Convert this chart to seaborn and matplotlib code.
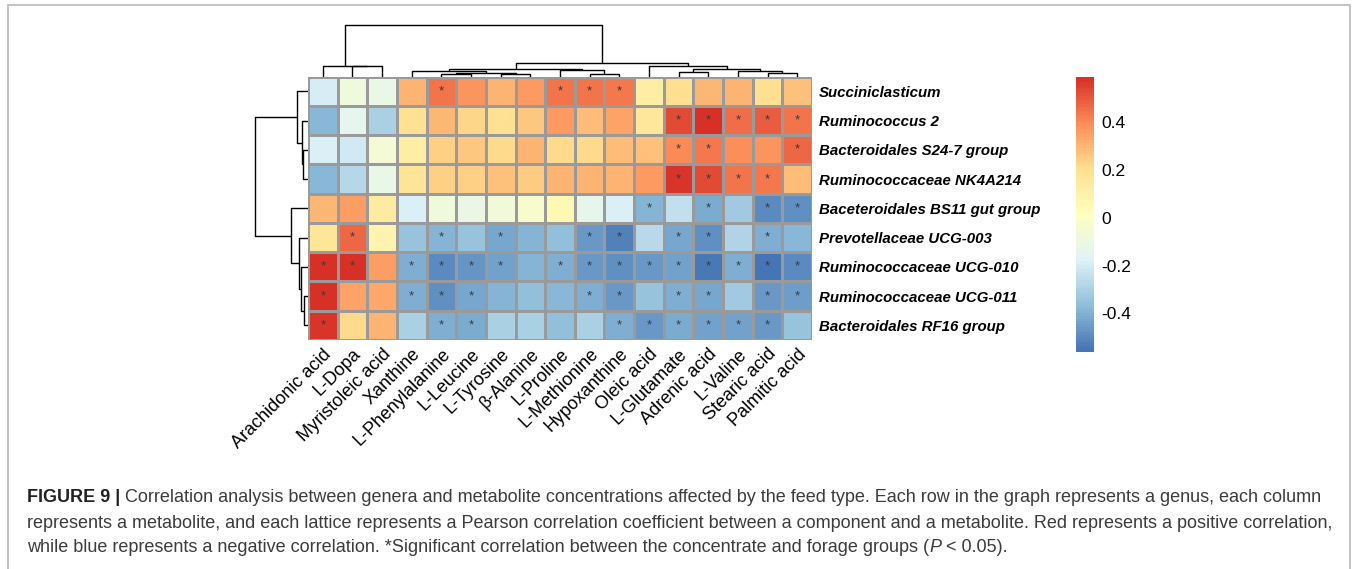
import numpy as np
import pandas as pd
import matplotlib
matplotlib.use("Agg")
import matplotlib.pyplot as plt
import seaborn as sns
from matplotlib.colors import LinearSegmentedColormap, ListedColormap
from matplotlib.patches import Rectangle

# ---------------- data ----------------
genera = ["Succiniclasticum", "Ruminococcus 2", "Bacteroidales S24-7 group",
          "Ruminococcaceae NK4A214", "Baceteroidales BS11 gut group",
          "Prevotellaceae UCG-003", "Ruminococcaceae UCG-010",
          "Ruminococcaceae UCG-011", "Bacteroidales RF16 group"]

metabolites = ["Arachidonic acid", "L-Dopa", "Myristoleic acid", "Xanthine",
               "L-Phenylalanine", "L-Leucine", "L-Tyrosine", "β-Alanine",
               "L-Proline", "L-Methionine", "Hypoxanthine", "Oleic acid",
               "L-Glutamate", "Adrenic acid", "L-Valine", "Stearic acid",
               "Palmitic acid"]

# Pearson r, one list per genus (columns follow `metabolites`)
r_succiniclasticum = [-0.20, -0.08, -0.12, 0.31, 0.45, 0.38, 0.31, 0.36, 0.45,
                      0.45, 0.43, 0.12, 0.21, 0.30, 0.31, 0.21, 0.27]
r_ruminococcus2 = [-0.38, -0.14, -0.30, 0.19, 0.30, 0.23, 0.19, 0.26, 0.36,
                   0.28, 0.34, 0.16, 0.53, 0.59, 0.46, 0.49, 0.45]
r_s24_7 = [-0.19, -0.21, -0.06, 0.12, 0.24, 0.26, 0.22, 0.31, 0.22,
           0.22, 0.29, 0.27, 0.40, 0.44, 0.39, 0.38, 0.47]
r_nk4a214 = [-0.38, -0.28, -0.12, 0.18, 0.24, 0.24, 0.27, 0.25, 0.31,
             0.31, 0.31, 0.37, 0.57, 0.53, 0.45, 0.44, 0.28]
r_bs11 = [0.30, 0.35, 0.13, -0.19, -0.08, -0.11, -0.07, -0.02, 0.06,
          -0.13, -0.19, -0.39, -0.24, -0.42, -0.32, -0.50, -0.48]
r_prevotellaceae003 = [0.17, 0.47, 0.08, -0.35, -0.39, -0.35, -0.43, -0.39, -0.36,
                       -0.46, -0.52, -0.27, -0.43, -0.48, -0.29, -0.41, -0.38]
r_ucg010 = [0.58, 0.58, 0.35, -0.40, -0.50, -0.47, -0.44, -0.39, -0.41,
            -0.46, -0.49, -0.46, -0.44, -0.54, -0.41, -0.56, -0.50]
r_ucg011 = [0.58, 0.34, 0.33, -0.40, -0.48, -0.43, -0.39, -0.36, -0.38,
            -0.41, -0.46, -0.35, -0.40, -0.43, -0.32, -0.46, -0.45]
r_rf16 = [0.57, 0.22, 0.31, -0.30, -0.40, -0.42, -0.30, -0.30, -0.36,
          -0.30, -0.41, -0.46, -0.42, -0.44, -0.44, -0.46, -0.35]

# columns with P < 0.05 for each genus
sig_succiniclasticum = [4, 8, 9, 10]
sig_ruminococcus2 = [12, 13, 14, 15, 16]
sig_s24_7 = [12, 13, 16]
sig_nk4a214 = [12, 13, 14, 15]
sig_bs11 = [11, 13, 15, 16]
sig_prevotellaceae003 = [1, 4, 6, 9, 10, 12, 13, 15]
sig_ucg010 = [0, 1, 3, 4, 5, 6, 8, 9, 10, 11, 12, 13, 14, 15, 16]
sig_ucg011 = [0, 3, 4, 5, 9, 10, 12, 13, 15, 16]
sig_rf16 = [0, 4, 5, 10, 11, 12, 13, 14, 15]

# hierarchical clustering merges: (child_a, child_b, height); ids >= n are earlier merges
row_merges = [(2, 3, 5.0), (1, 9, 6.0), (0, 10, 11.0), (7, 8, 4.5),
              (6, 12, 7.0), (5, 13, 9.0), (4, 14, 16.6), (11, 15, 52.6)]
col_merges = [(1, 2, 10.3), (0, 17, 10.8), (4, 5, 2.2), (6, 7, 2.5),
              (19, 20, 3.5), (3, 21, 5.5), (9, 10, 2.8), (8, 23, 7.0),
              (22, 24, 8.2), (12, 13, 4.5), (15, 16, 3.5), (14, 27, 5.7),
              (26, 28, 7.3), (11, 29, 10.6), (25, 30, 14.1), (18, 31, 52.2)]

ticks_cbar = [-0.4, -0.2, 0, 0.2, 0.4]
tick_text_cbar = ["-0.4", "-0.2", "0", "0.2", "0.4"]

# ---------------- assemble ----------------
corr = pd.DataFrame([r_succiniclasticum, r_ruminococcus2, r_s24_7, r_nk4a214,
                     r_bs11, r_prevotellaceae003, r_ucg010, r_ucg011, r_rf16],
                    index=genera, columns=metabolites)
sig_lists = [sig_succiniclasticum, sig_ruminococcus2, sig_s24_7, sig_nk4a214,
             sig_bs11, sig_prevotellaceae003, sig_ucg010, sig_ucg011, sig_rf16]
stars = np.full(corr.shape, "", dtype=object)
for i, cols in enumerate(sig_lists):
    for j in cols:
        stars[i, j] = "*"

# pheatmap-style palette: reversed RdYlBu (7) expanded to 100 steps
rdylbu7 = ["#4575B4", "#91BFDB", "#E0F3F8", "#FFFFBF", "#FEE090", "#FC8D59", "#D73027"]
ramp = LinearSegmentedColormap.from_list("ramp", rdylbu7)
cmap = ListedColormap(ramp(np.linspace(0, 1, 100)))

W, H = 1358, 569
sns.set_theme(style="white")
plt.rcParams["font.family"] = ["Liberation Sans", "DejaVu Sans"]
fig = plt.figure(figsize=(W / 100, H / 100), dpi=100)
fig.patch.set_facecolor("white")


def px_axes(left, top, right, bottom):
    return fig.add_axes([left / W, 1 - bottom / H, (right - left) / W, (bottom - top) / H])


HM = (308, 76.7, 812, 340)
TREE_LIM = 57.5
hm_ax = px_axes(*HM)
col_ax = px_axes(HM[0], HM[1] - TREE_LIM, HM[2], HM[1])
row_ax = px_axes(HM[0] - TREE_LIM, HM[1], HM[0], HM[3])
cb_ax = px_axes(1076, 76.7, 1094, 351.7)

sns.heatmap(corr, ax=hm_ax, cmap=cmap, linewidths=0.8, linecolor="#9a9a9a",
            annot=stars, fmt="", annot_kws={"color": "#3a3a3a", "fontsize": 9.5},
            cbar=True, cbar_ax=cb_ax, cbar_kws={"ticks": ticks_cbar},
            xticklabels=True, yticklabels=True)

hm_ax.set_xlabel("")
hm_ax.set_ylabel("")
hm_ax.yaxis.tick_right()
hm_ax.set_yticklabels(genera, rotation=0, fontsize=10.8, fontweight="bold",
                      fontstyle="italic", color="black")
hm_ax.set_xticklabels(metabolites, rotation=45, ha="right", va="top",
                      rotation_mode="anchor", fontsize=13, color="black")
hm_ax.tick_params(axis="both", length=0)
hm_ax.tick_params(axis="y", pad=5)
hm_ax.tick_params(axis="x", pad=4)

cb = hm_ax.collections[0].colorbar
cb.outline.set_visible(False)
cb.set_ticks(ticks_cbar)
cb.set_ticklabels(tick_text_cbar)
cb_ax.tick_params(length=0, labelsize=12.5, pad=5, colors="black")


def draw_tree(ax, merges, n, side):
    pos = {i: i + 0.5 for i in range(n)}
    hgt = {i: 0.0 for i in range(n)}
    for k, (a, b, h) in enumerate(merges):
        xs = [pos[a], pos[a], pos[b], pos[b]]
        ys = [hgt[a], h, h, hgt[b]]
        if side == "top":
            ax.plot(xs, ys, color="black", lw=1.0, solid_capstyle="butt")
        else:
            ax.plot(ys, xs, color="black", lw=1.0, solid_capstyle="butt")
        pos[n + k] = (pos[a] + pos[b]) / 2
        hgt[n + k] = h
    ax.set_axis_off()


draw_tree(col_ax, col_merges, len(metabolites), "top")
col_ax.set_xlim(0, len(metabolites))
col_ax.set_ylim(0, TREE_LIM)

draw_tree(row_ax, row_merges, len(genera), "left")
row_ax.set_ylim(len(genera), 0)
row_ax.set_xlim(TREE_LIM, 0)

# frame around the panel
fig.patches.append(Rectangle((8 / W, 1 - 600 / H), (1350 - 8) / W, (600 - 5) / H,
                             transform=fig.transFigure, fill=False,
                             edgecolor="#c4c4c4", lw=1.4))

# caption
renderer = fig.canvas.get_renderer()
cap_kw = dict(fontsize=13.0, color="#3c3c3c", va="center", ha="left")


def draw_runs(x_px, y_px, runs):
    x = x_px
    for s, props in runs:
        kw = dict(cap_kw)
        kw.update(props)
        t = fig.text(x / W, 1 - y_px / H, s, **kw)
        x += t.get_window_extent(renderer).width


draw_runs(27, 497, [("FIGURE 9 |", {"fontweight": "bold", "color": "#222222"}),
                    (" Correlation analysis between genera and metabolite concentrations affected by the feed type. Each row in the graph represents a genus, each column", {})])
draw_runs(27, 523, [("represents a metabolite, and each lattice represents a Pearson correlation coefficient between a component and a metabolite. Red represents a positive correlation,", {})])
draw_runs(27, 548, [("while blue represents a negative correlation. *Significant correlation between the concentrate and forage groups (", {}),
                    ("P", {"fontstyle": "italic"}),
                    (" < 0.05).", {})])

fig.savefig("out.png", dpi=100, facecolor="white")
